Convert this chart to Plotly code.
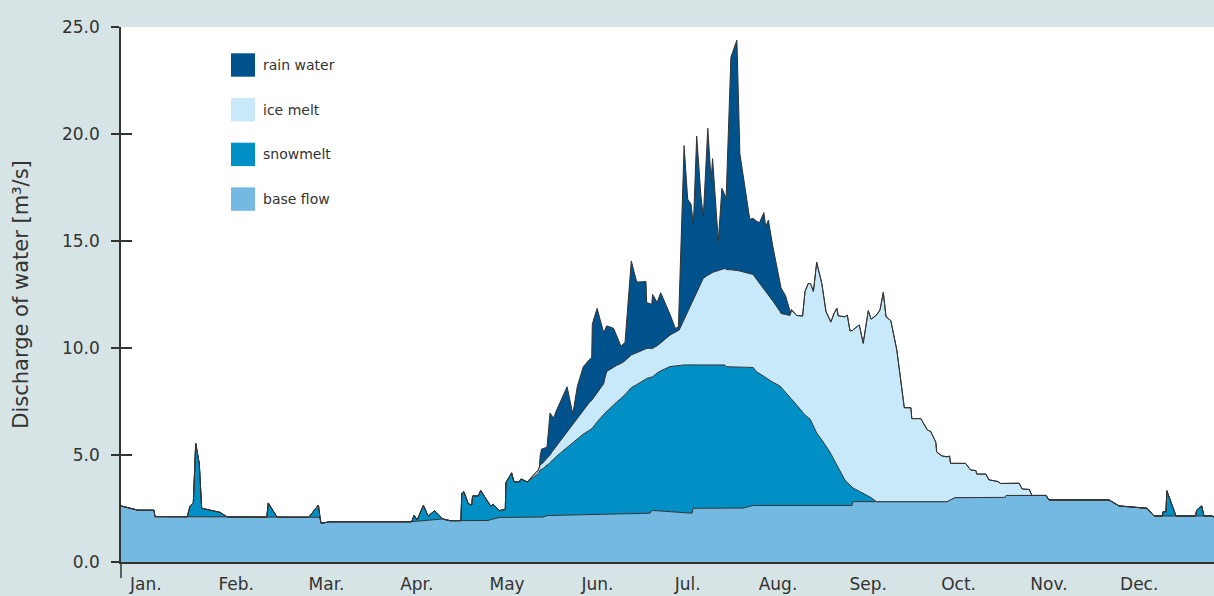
import plotly.graph_objects as go

# ---------------- data (x = day of year, values in m³/s) ----------------
months = ["Jan.", "Feb.", "Mar.", "Apr.", "May", "Jun.", "Jul.", "Aug.", "Sep.", "Oct.", "Nov.", "Dec."]
y_ticks = [0, 5, 10, 15, 20, 25]

base_day = [0, 5.67, 11.0, 11.33, 66.33, 66.67, 69.67, 96.33, 107.0, 109.67, 122.33, 125.67,
            140.67, 142.0, 176.33, 177.0, 190.33, 190.67, 207.33, 210.67, 243.67, 244.0,
            275.33, 278.0, 294.67, 295.0, 308.33, 309.33, 329.33, 332.67, 342.0, 344.33,
            363.67, 364.33]
base_flow = [2.62, 2.42, 2.42, 2.12, 2.09, 1.81, 1.88, 1.88, 2.02, 1.93, 1.94, 2.08,
             2.10, 2.17, 2.28, 2.41, 2.28, 2.51, 2.52, 2.64, 2.64, 2.82,
             2.82, 3.01, 3.01, 3.11, 3.11, 2.90, 2.90, 2.62, 2.51, 2.15,
             2.15, 2.10]

snow_day = [22.1, 23.0, 24.1, 24.9, 26.1, 26.9, 33.0, 35.4,
            48.6, 49.1, 52.0,
            62.6, 65.8, 66.2,
            96.9, 97.7, 98.7, 100.8, 102.4, 104.5, 107.3,
            113.3, 113.6, 114.3, 115.8, 116.9, 117.2, 119.1, 119.9, 123.2, 124.1, 126.1,
            128.1, 128.3, 130.2, 131.0, 132.8, 133.3, 134.7, 135.4, 139.1, 139.7, 142.4,
            143.8, 146.3, 150.2, 154.1, 156.9, 159.7, 162.4, 165.2, 167.4, 170.2, 173.0,
            175.2, 176.3, 177.0, 179.1, 183.0, 186.3, 190.3, 190.7, 201.3, 201.7, 207.3,
            210.2, 210.7, 211.9, 216.9, 219.7, 223.0, 225.2, 228.0, 229.7, 231.9, 234.1,
            236.3, 238.6, 241.3, 243.6, 244.0, 247.4, 249.7, 251.8,
            347.17, 347.33, 348.33, 348.6, 351.67,
            358.17, 358.57, 360.23, 361.0]
snowmelt = [0, 0.50, 0.65, 3.43, 2.47, 0.40, 0.21, 0,
            0, 0.66, 0,
            0, 0.57, 0,
            0, 0.29, 0.05, 0.71, 0.18, 0.41, 0,
            0, 1.28, 1.35, 0.78, 0.73, 1.15, 1.15, 1.40, 0.64, 0.68, 0.32,
            0.38, 1.62, 2.08, 1.66, 1.66, 1.79, 1.70, 1.65, 2.04, 2.20, 2.39,
            2.59, 2.89, 3.35, 3.77, 4.00, 4.50, 4.87, 5.23, 5.48, 5.90, 6.10,
            6.30, 6.35, 6.22, 6.49, 6.78, 6.89, 6.93, 6.70, 6.69, 6.61, 6.60,
            6.50, 6.45, 6.25, 5.79, 5.58, 5.07, 4.70, 4.23, 4.04, 3.39, 2.97,
            2.50, 1.89, 1.19, 0.86, 0.64, 0.39, 0.22, 0,
            0, 0.20, 0.20, 1.18, 0,
            0, 0.28, 0.47, 0]

ice_day = [135.4, 139.1, 139.7, 143.0, 147.4, 152.4, 156.3, 160.8, 161.3, 161.9, 164.1,
           166.9, 170.2, 173.6, 179.1, 186.1, 194.1, 196.9, 201.9, 204.7, 211.9, 216.3,
           220.0, 223.0, 223.5, 225.2, 227.2, 228.0, 229.1, 230.0, 230.8, 231.9, 233.6,
           235.0, 236.6, 237.7, 238.6, 239.1, 242.1, 243.0, 246.1, 247.4, 249.1, 250.0,
           253.0, 254.1, 255.0, 256.6, 258.6, 261.1, 263.3, 263.6, 266.6, 268.8, 269.9,
           271.6, 271.9, 273.6, 276.2, 276.5, 278.0, 281.5, 283.2, 285.0, 285.2, 288.3,
           289.3, 292.3, 293.2, 294.7, 295.0, 299.4, 300.4, 302.8, 303.6]
ice_melt = [0, 0.16, 0.23, 0.35, 0.64, 1.00, 1.32, 1.39, 1.64, 1.86, 1.77,
            1.62, 1.52, 1.46, 1.26, 1.64, 4.05, 4.31, 4.54, 4.52, 4.31, 3.92,
            3.44, 3.81, 4.17, 4.18, 4.49, 5.77, 6.27, 6.36, 6.29, 7.97, 7.31,
            6.28, 6.15, 6.85, 7.32, 7.10, 7.82, 7.21, 7.77, 7.01, 8.66, 8.34,
            8.96, 9.77, 8.64, 8.46, 7.09, 4.39, 4.39, 3.88, 3.88, 3.35, 3.28,
            2.78, 2.32, 2.14, 2.07, 1.71, 1.60, 1.60, 1.29, 1.26, 1.10, 1.10,
            0.83, 0.75, 0.66, 0.66, 0.57, 0.57, 0.30, 0.28, 0]

rain_day = [139.5, 139.7, 140.2, 142.0, 143.0, 144.2, 145.0, 148.7, 150.6, 152.1, 154.1,
            156.9, 157.1, 158.7, 160.9, 161.6, 164.2, 166.6, 168.0, 170.1, 171.9, 175.0,
            175.2, 176.9, 177.2, 178.7, 179.9, 184.8, 185.8, 187.7, 188.9, 190.0, 190.8,
            191.9, 193.3, 194.1, 195.6, 196.7, 197.2, 199.1, 200.3, 201.7, 203.3, 205.3,
            206.3, 209.6, 212.8, 214.3, 214.9, 215.8, 217.3, 220.0, 221.5, 223.0, 223.2]
rain_water = [0, 0.42, 0.70, 0.53, 1.96, 1.48, 1.64, 2.09, 0.45, 1.47, 2.01,
              1.99, 3.53, 3.95, 2.38, 2.18, 1.81, 0.82, 0.85, 4.40, 3.31, 3.14,
              2.15, 2.07, 2.52, 2.02, 2.35, 0.17, 0.17, 8.13, 5.26, 4.70, 3.50,
              7.31, 4.10, 2.88, 6.87, 4.33, 5.32, 1.38, 3.79, 3.28, 9.93, 10.76,
              5.48, 2.51, 2.81, 3.56, 3.01, 3.48, 2.54, 1.19, 0.89, 0.29, 0]

# ---------------- styling ----------------
C_RAIN = "#00528c"
C_ICE = "#c7e9f9"
C_SNOW = "#0090c6"
C_BASE = "#74b9e1"
C_LINE = "#333333"
C_BG = "#d6e4e6"
FONT = "DejaVu Sans"

W, H = 1214, 596
ML, MR, MT, MB = 121, 0, 27, 34
PW, PH = W - ML - MR, H - MT - MB
X_MAX = PW / 3.0

fig = go.Figure()
series = [
    ("base flow", base_day, base_flow, C_BASE),
    ("snowmelt", snow_day, snowmelt, C_SNOW),
    ("ice melt", ice_day, ice_melt, C_ICE),
    ("rain water", rain_day, rain_water, C_RAIN),
]
for name, xs, ys, col in series:
    assert len(xs) == len(ys), name
    fig.add_trace(go.Scatter(
        x=xs, y=ys, name=name, mode="lines", stackgroup="one",
        stackgaps="interpolate", fillcolor=col,
        line=dict(color=C_LINE, width=1), showlegend=False,
    ))
# helper trace for the overlaying axis that carries the inner tick marks
fig.add_trace(go.Scatter(x=[None], y=[None], yaxis="y2", showlegend=False, hoverinfo="skip"))


def px_x(p):
    return (p - ML) / PW


def px_y(p):
    return (H - MB - p) / PH


shapes = [dict(type="line", xref="paper", yref="paper", x0=0, x1=0, y0=0, y1=px_y(578),
               line=dict(color=C_LINE, width=1.5))]
annotations = []
legend_items = [("rain water", C_RAIN), ("ice melt", C_ICE), ("snowmelt", C_SNOW), ("base flow", C_BASE)]
for i, (name, col) in enumerate(legend_items):
    top = 53.3 + i * 44.7
    shapes.append(dict(type="rect", xref="paper", yref="paper",
                       x0=px_x(231), x1=px_x(255), y0=px_y(top + 23.4), y1=px_y(top),
                       fillcolor=col, line=dict(width=0)))
    annotations.append(dict(xref="paper", yref="paper", x=px_x(261), y=px_y(top + 11.7),
                            text=name, showarrow=False, xanchor="left", yanchor="middle",
                            font=dict(family=FONT, size=14, color=C_LINE)))

fig.update_layout(
    width=W, height=H, margin=dict(l=ML, r=MR, t=MT, b=MB),
    paper_bgcolor=C_BG, plot_bgcolor="white",
    font=dict(family=FONT, color=C_LINE),
    shapes=shapes, annotations=annotations, showlegend=False,
    xaxis=dict(range=[0, X_MAX], showgrid=False, zeroline=False, showline=True,
               linecolor=C_LINE, linewidth=1.5, ticks="",
               tickvals=[8.3 + 30.1 * i for i in range(12)], ticktext=months,
               tickfont=dict(family=FONT, size=17, color=C_LINE), ticklabelstandoff=6),
    yaxis=dict(range=[0, 25], showgrid=False, zeroline=False, showline=True,
               linecolor=C_LINE, linewidth=1.5, ticks="outside", ticklen=8, tickwidth=1.5,
               tickcolor=C_LINE, tickvals=y_ticks, ticktext=[f"{v:.1f}" for v in y_ticks],
               tickfont=dict(family=FONT, size=17, color=C_LINE), ticklabelstandoff=8,
               title=dict(text="Discharge of water [m³/s]", standoff=28,
                          font=dict(family=FONT, size=21, color=C_LINE))),
    yaxis2=dict(range=[0, 25], overlaying="y", anchor="x", side="left", showgrid=False,
                zeroline=False, showline=False, ticks="inside", ticklen=11, tickwidth=1.5,
                tickcolor=C_LINE, tickvals=y_ticks, showticklabels=False),
)

fig.write_html(
    "out.html",
    config={"displayModeBar": False},
    post_script="document.body.style.margin='0';document.body.style.overflow='hidden';"
                "document.body.style.background='" + C_BG + "';",
)
